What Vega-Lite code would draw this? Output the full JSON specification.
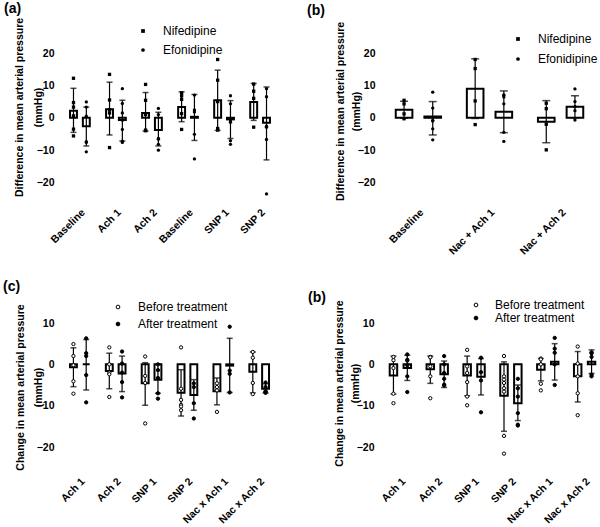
{
"$schema": "https://vega.github.io/schema/vega-lite/v6.json",
"padding": {"left": 3, "top": 2, "right": 0, "bottom": 0},
"config": {
 "view": {"stroke": "transparent", "strokeWidth": 0},
 "font": "Liberation Sans",
 "axis": {"domain": false, "ticks": false, "zindex": 0, "labelColor": "black", "labelFontWeight": "bold", "labelFontSize": 10.5, "labelFont": "Liberation Sans", "titleColor": "black", "titleFontWeight": "bold", "titleFontSize": 10.5, "titleFont": "Liberation Sans", "grid": false, "labelOverlap": false},
 "legend": {"title": null, "labelFont": "Liberation Sans", "labelFontSize": 12, "labelColor": "black", "padding": 0, "symbolStrokeColor": "black", "symbolFillColor": "black", "orient": "none"},
 "title": {"font": "Liberation Sans", "fontSize": 14, "fontWeight": "bold", "color": "black", "anchor": "start", "frame": "group"}
},
"datasets": {
 "bars": [
  {"panel": "a", "cat": "Baseline", "grp": "Nifedipine", "mean": 2.2, "lo": -4.5, "hi": 9.1},
  {"panel": "a", "cat": "Baseline", "grp": "Efonidipine", "mean": -2.6, "lo": -8.7, "hi": 3.3},
  {"panel": "a", "cat": "Ach 1", "grp": "Nifedipine", "mean": 2.6, "lo": -5.3, "hi": 11.0},
  {"panel": "a", "cat": "Ach 1", "grp": "Efonidipine", "mean": -0.7, "lo": -7.2, "hi": 5.4},
  {"panel": "a", "cat": "Ach 2", "grp": "Nifedipine", "mean": 1.5, "lo": -4.1, "hi": 7.8},
  {"panel": "a", "cat": "Ach 2", "grp": "Efonidipine", "mean": -3.8, "lo": -8.7, "hi": 1.7},
  {"panel": "a", "cat": "Baseline ", "grp": "Nifedipine", "mean": 3.3, "lo": -1.2, "hi": 8.0},
  {"panel": "a", "cat": "Baseline ", "grp": "Efonidipine", "mean": 0.3, "lo": -7.0, "hi": 7.2},
  {"panel": "a", "cat": "SNP 1", "grp": "Nifedipine", "mean": 5.4, "lo": -3.9, "hi": 14.7},
  {"panel": "a", "cat": "SNP 1", "grp": "Efonidipine", "mean": -0.5, "lo": -6.4, "hi": 5.3},
  {"panel": "a", "cat": "SNP 2", "grp": "Nifedipine", "mean": 4.9, "lo": -0.8, "hi": 10.6},
  {"panel": "a", "cat": "SNP 2", "grp": "Efonidipine", "mean": -1.5, "lo": -13.0, "hi": 9.5},
  {"panel": "b", "cat": "Baseline", "grp": "Nifedipine", "mean": 2.5, "lo": -0.1, "hi": 5.1},
  {"panel": "b", "cat": "Baseline", "grp": "Efonidipine", "mean": 0.4, "lo": -5.3, "hi": 5.0},
  {"panel": "b", "cat": "Nac + Ach 1", "grp": "Nifedipine", "mean": 9.0, "lo": -0.2, "hi": 18.2},
  {"panel": "b", "cat": "Nac + Ach 1", "grp": "Efonidipine", "mean": 1.9, "lo": -4.6, "hi": 8.3},
  {"panel": "b", "cat": "Nac + Ach 2", "grp": "Nifedipine", "mean": -1.2, "lo": -7.7, "hi": 5.3},
  {"panel": "b", "cat": "Nac + Ach 2", "grp": "Efonidipine", "mean": 3.4, "lo": 0.0, "hi": 6.8},
  {"panel": "c", "cat": "Ach 1", "grp": "Before treatment", "mean": -0.7, "lo": -5.4, "hi": 4.0},
  {"panel": "c", "cat": "Ach 1", "grp": "After treatment", "mean": 0.0, "lo": -6.2, "hi": 6.0},
  {"panel": "c", "cat": "Ach 2", "grp": "Before treatment", "mean": -1.6, "lo": -5.9, "hi": 2.7},
  {"panel": "c", "cat": "Ach 2", "grp": "After treatment", "mean": -2.2, "lo": -6.6, "hi": 2.0},
  {"panel": "c", "cat": "SNP 1", "grp": "Before treatment", "mean": -4.6, "lo": -9.9, "hi": 0.4},
  {"panel": "c", "cat": "SNP 1", "grp": "After treatment", "mean": -3.7, "lo": -7.0, "hi": 0.0},
  {"panel": "c", "cat": "SNP 2", "grp": "Before treatment", "mean": -6.9, "lo": -12.5, "hi": -1.3},
  {"panel": "c", "cat": "SNP 2", "grp": "After treatment", "mean": -7.4, "lo": -11.1, "hi": -3.7},
  {"panel": "c", "cat": "Nac x Ach 1", "grp": "Before treatment", "mean": -6.5, "lo": -9.8, "hi": -3.3},
  {"panel": "c", "cat": "Nac x Ach 1", "grp": "After treatment", "mean": -0.3, "lo": -6.8, "hi": 6.3},
  {"panel": "c", "cat": "Nac x Ach 2", "grp": "Before treatment", "mean": -1.8, "lo": -6.9, "hi": 3.0},
  {"panel": "c", "cat": "Nac x Ach 2", "grp": "After treatment", "mean": -5.9, "lo": -6.9, "hi": -4.7},
  {"panel": "d", "cat": "Ach 1", "grp": "Before treatment", "mean": -2.7, "lo": -7.2, "hi": 2.0},
  {"panel": "d", "cat": "Ach 1", "grp": "After treatment", "mean": -0.9, "lo": -3.9, "hi": 2.2},
  {"panel": "d", "cat": "Ach 2", "grp": "Before treatment", "mean": -1.2, "lo": -4.6, "hi": 2.0},
  {"panel": "d", "cat": "Ach 2", "grp": "After treatment", "mean": -2.4, "lo": -5.6, "hi": 0.8},
  {"panel": "d", "cat": "SNP 1", "grp": "Before treatment", "mean": -2.7, "lo": -7.6, "hi": 2.0},
  {"panel": "d", "cat": "SNP 1", "grp": "After treatment", "mean": -3.0, "lo": -7.4, "hi": 1.4},
  {"panel": "d", "cat": "SNP 2", "grp": "Before treatment", "mean": -7.6, "lo": -16.2, "hi": 0.6},
  {"panel": "d", "cat": "SNP 2", "grp": "After treatment", "mean": -9.4, "lo": -13.6, "hi": -5.0},
  {"panel": "d", "cat": "Nac x Ach 1", "grp": "Before treatment", "mean": -1.3, "lo": -4.0, "hi": 1.4},
  {"panel": "d", "cat": "Nac x Ach 1", "grp": "After treatment", "mean": 0.6, "lo": -3.8, "hi": 5.0},
  {"panel": "d", "cat": "Nac x Ach 2", "grp": "Before treatment", "mean": -2.9, "lo": -9.1, "hi": 3.1},
  {"panel": "d", "cat": "Nac x Ach 2", "grp": "After treatment", "mean": 0.6, "lo": -2.2, "hi": 3.5}
 ],
 "pts": [
  {"panel": "a", "cat": "Baseline", "grp": "Nifedipine", "v": 12.2}, {"panel": "a", "cat": "Baseline", "grp": "Nifedipine", "v": 4.7}, {"panel": "a", "cat": "Baseline", "grp": "Nifedipine", "v": 3.3}, {"panel": "a", "cat": "Baseline", "grp": "Nifedipine", "v": 0.6}, {"panel": "a", "cat": "Baseline", "grp": "Nifedipine", "v": -3.5}, {"panel": "a", "cat": "Baseline", "grp": "Nifedipine", "v": -5.6},
  {"panel": "a", "cat": "Baseline", "grp": "Efonidipine", "v": 4.9}, {"panel": "a", "cat": "Baseline", "grp": "Efonidipine", "v": 3.3}, {"panel": "a", "cat": "Baseline", "grp": "Efonidipine", "v": 0.5}, {"panel": "a", "cat": "Baseline", "grp": "Efonidipine", "v": -7.4}, {"panel": "a", "cat": "Baseline", "grp": "Efonidipine", "v": -7.6}, {"panel": "a", "cat": "Baseline", "grp": "Efonidipine", "v": -10.5},
  {"panel": "a", "cat": "Ach 1", "grp": "Nifedipine", "v": 13.4}, {"panel": "a", "cat": "Ach 1", "grp": "Nifedipine", "v": 5.5}, {"panel": "a", "cat": "Ach 1", "grp": "Nifedipine", "v": 2.5}, {"panel": "a", "cat": "Ach 1", "grp": "Nifedipine", "v": 1.5}, {"panel": "a", "cat": "Ach 1", "grp": "Nifedipine", "v": -9.2},
  {"panel": "a", "cat": "Ach 1", "grp": "Efonidipine", "v": 9.0}, {"panel": "a", "cat": "Ach 1", "grp": "Efonidipine", "v": 4.4}, {"panel": "a", "cat": "Ach 1", "grp": "Efonidipine", "v": 1.5}, {"panel": "a", "cat": "Ach 1", "grp": "Efonidipine", "v": -0.8}, {"panel": "a", "cat": "Ach 1", "grp": "Efonidipine", "v": -3.6}, {"panel": "a", "cat": "Ach 1", "grp": "Efonidipine", "v": -7.2}, {"panel": "a", "cat": "Ach 1", "grp": "Efonidipine", "v": -7.6},
  {"panel": "a", "cat": "Ach 2", "grp": "Nifedipine", "v": 10.3}, {"panel": "a", "cat": "Ach 2", "grp": "Nifedipine", "v": 5.4}, {"panel": "a", "cat": "Ach 2", "grp": "Nifedipine", "v": 1.0}, {"panel": "a", "cat": "Ach 2", "grp": "Nifedipine", "v": -3.8}, {"panel": "a", "cat": "Ach 2", "grp": "Nifedipine", "v": -4.0},
  {"panel": "a", "cat": "Ach 2", "grp": "Efonidipine", "v": 2.9}, {"panel": "a", "cat": "Ach 2", "grp": "Efonidipine", "v": 1.0}, {"panel": "a", "cat": "Ach 2", "grp": "Efonidipine", "v": -6.4}, {"panel": "a", "cat": "Ach 2", "grp": "Efonidipine", "v": -6.6}, {"panel": "a", "cat": "Ach 2", "grp": "Efonidipine", "v": -8.2}, {"panel": "a", "cat": "Ach 2", "grp": "Efonidipine", "v": -10.0},
  {"panel": "a", "cat": "Baseline ", "grp": "Nifedipine", "v": 7.7}, {"panel": "a", "cat": "Baseline ", "grp": "Nifedipine", "v": 6.8}, {"panel": "a", "cat": "Baseline ", "grp": "Nifedipine", "v": 5.7}, {"panel": "a", "cat": "Baseline ", "grp": "Nifedipine", "v": 1.3}, {"panel": "a", "cat": "Baseline ", "grp": "Nifedipine", "v": -3.6},
  {"panel": "a", "cat": "Baseline ", "grp": "Efonidipine", "v": 7.0}, {"panel": "a", "cat": "Baseline ", "grp": "Efonidipine", "v": 2.4}, {"panel": "a", "cat": "Baseline ", "grp": "Efonidipine", "v": 1.8}, {"panel": "a", "cat": "Baseline ", "grp": "Efonidipine", "v": -5.1}, {"panel": "a", "cat": "Baseline ", "grp": "Efonidipine", "v": -12.7},
  {"panel": "a", "cat": "SNP 1", "grp": "Nifedipine", "v": 18.0}, {"panel": "a", "cat": "SNP 1", "grp": "Nifedipine", "v": 11.6}, {"panel": "a", "cat": "SNP 1", "grp": "Nifedipine", "v": 5.0}, {"panel": "a", "cat": "SNP 1", "grp": "Nifedipine", "v": -3.3}, {"panel": "a", "cat": "SNP 1", "grp": "Nifedipine", "v": -3.8},
  {"panel": "a", "cat": "SNP 1", "grp": "Efonidipine", "v": 6.8}, {"panel": "a", "cat": "SNP 1", "grp": "Efonidipine", "v": 4.3}, {"panel": "a", "cat": "SNP 1", "grp": "Efonidipine", "v": -1.0}, {"panel": "a", "cat": "SNP 1", "grp": "Efonidipine", "v": -1.4}, {"panel": "a", "cat": "SNP 1", "grp": "Efonidipine", "v": -7.1}, {"panel": "a", "cat": "SNP 1", "grp": "Efonidipine", "v": -8.2},
  {"panel": "a", "cat": "SNP 2", "grp": "Nifedipine", "v": 10.4}, {"panel": "a", "cat": "SNP 2", "grp": "Nifedipine", "v": 8.2}, {"panel": "a", "cat": "SNP 2", "grp": "Nifedipine", "v": 6.0}, {"panel": "a", "cat": "SNP 2", "grp": "Nifedipine", "v": -2.9},
  {"panel": "a", "cat": "SNP 2", "grp": "Efonidipine", "v": 9.0}, {"panel": "a", "cat": "SNP 2", "grp": "Efonidipine", "v": 6.5}, {"panel": "a", "cat": "SNP 2", "grp": "Efonidipine", "v": -2.6}, {"panel": "a", "cat": "SNP 2", "grp": "Efonidipine", "v": -2.9}, {"panel": "a", "cat": "SNP 2", "grp": "Efonidipine", "v": -6.7}, {"panel": "a", "cat": "SNP 2", "grp": "Efonidipine", "v": -23.5},
  {"panel": "b", "cat": "Baseline", "grp": "Nifedipine", "v": 5.4}, {"panel": "b", "cat": "Baseline", "grp": "Nifedipine", "v": 4.3}, {"panel": "b", "cat": "Baseline", "grp": "Nifedipine", "v": 1.2}, {"panel": "b", "cat": "Baseline", "grp": "Nifedipine", "v": -0.3},
  {"panel": "b", "cat": "Baseline", "grp": "Efonidipine", "v": 7.9}, {"panel": "b", "cat": "Baseline", "grp": "Efonidipine", "v": 3.0}, {"panel": "b", "cat": "Baseline", "grp": "Efonidipine", "v": -0.8}, {"panel": "b", "cat": "Baseline", "grp": "Efonidipine", "v": -1.0}, {"panel": "b", "cat": "Baseline", "grp": "Efonidipine", "v": -3.4}, {"panel": "b", "cat": "Baseline", "grp": "Efonidipine", "v": -6.8},
  {"panel": "b", "cat": "Nac + Ach 1", "grp": "Nifedipine", "v": 18.0}, {"panel": "b", "cat": "Nac + Ach 1", "grp": "Nifedipine", "v": 15.2}, {"panel": "b", "cat": "Nac + Ach 1", "grp": "Nifedipine", "v": 5.2}, {"panel": "b", "cat": "Nac + Ach 1", "grp": "Nifedipine", "v": -2.1},
  {"panel": "b", "cat": "Nac + Ach 1", "grp": "Efonidipine", "v": 7.1}, {"panel": "b", "cat": "Nac + Ach 1", "grp": "Efonidipine", "v": 6.9}, {"panel": "b", "cat": "Nac + Ach 1", "grp": "Efonidipine", "v": 6.4}, {"panel": "b", "cat": "Nac + Ach 1", "grp": "Efonidipine", "v": 4.3}, {"panel": "b", "cat": "Nac + Ach 1", "grp": "Efonidipine", "v": -4.5}, {"panel": "b", "cat": "Nac + Ach 1", "grp": "Efonidipine", "v": -7.3},
  {"panel": "b", "cat": "Nac + Ach 2", "grp": "Nifedipine", "v": 4.5}, {"panel": "b", "cat": "Nac + Ach 2", "grp": "Nifedipine", "v": 2.8}, {"panel": "b", "cat": "Nac + Ach 2", "grp": "Nifedipine", "v": -2.0}, {"panel": "b", "cat": "Nac + Ach 2", "grp": "Nifedipine", "v": -9.9},
  {"panel": "b", "cat": "Nac + Ach 2", "grp": "Efonidipine", "v": 8.9}, {"panel": "b", "cat": "Nac + Ach 2", "grp": "Efonidipine", "v": 5.0}, {"panel": "b", "cat": "Nac + Ach 2", "grp": "Efonidipine", "v": 3.4}, {"panel": "b", "cat": "Nac + Ach 2", "grp": "Efonidipine", "v": 2.2}, {"panel": "b", "cat": "Nac + Ach 2", "grp": "Efonidipine", "v": -0.7},
  {"panel": "c", "cat": "Ach 1", "grp": "Before treatment", "v": 4.9}, {"panel": "c", "cat": "Ach 1", "grp": "Before treatment", "v": 2.0}, {"panel": "c", "cat": "Ach 1", "grp": "Before treatment", "v": -0.2}, {"panel": "c", "cat": "Ach 1", "grp": "Before treatment", "v": -4.1}, {"panel": "c", "cat": "Ach 1", "grp": "Before treatment", "v": -7.1},
  {"panel": "c", "cat": "Ach 1", "grp": "After treatment", "v": 6.3}, {"panel": "c", "cat": "Ach 1", "grp": "After treatment", "v": 2.7}, {"panel": "c", "cat": "Ach 1", "grp": "After treatment", "v": 2.0}, {"panel": "c", "cat": "Ach 1", "grp": "After treatment", "v": -2.6}, {"panel": "c", "cat": "Ach 1", "grp": "After treatment", "v": -9.2},
  {"panel": "c", "cat": "Ach 2", "grp": "Before treatment", "v": 4.1}, {"panel": "c", "cat": "Ach 2", "grp": "Before treatment", "v": 0.0}, {"panel": "c", "cat": "Ach 2", "grp": "Before treatment", "v": -2.0}, {"panel": "c", "cat": "Ach 2", "grp": "Before treatment", "v": -2.4}, {"panel": "c", "cat": "Ach 2", "grp": "Before treatment", "v": -7.9},
  {"panel": "c", "cat": "Ach 2", "grp": "After treatment", "v": 3.1}, {"panel": "c", "cat": "Ach 2", "grp": "After treatment", "v": 0.2}, {"panel": "c", "cat": "Ach 2", "grp": "After treatment", "v": -2.0}, {"panel": "c", "cat": "Ach 2", "grp": "After treatment", "v": -4.3}, {"panel": "c", "cat": "Ach 2", "grp": "After treatment", "v": -8.0},
  {"panel": "c", "cat": "SNP 1", "grp": "Before treatment", "v": 1.9}, {"panel": "c", "cat": "SNP 1", "grp": "Before treatment", "v": -2.8}, {"panel": "c", "cat": "SNP 1", "grp": "Before treatment", "v": -4.5}, {"panel": "c", "cat": "SNP 1", "grp": "Before treatment", "v": -14.3},
  {"panel": "c", "cat": "SNP 1", "grp": "After treatment", "v": 0.0}, {"panel": "c", "cat": "SNP 1", "grp": "After treatment", "v": -1.4}, {"panel": "c", "cat": "SNP 1", "grp": "After treatment", "v": -3.3}, {"panel": "c", "cat": "SNP 1", "grp": "After treatment", "v": -7.0}, {"panel": "c", "cat": "SNP 1", "grp": "After treatment", "v": -8.3},
  {"panel": "c", "cat": "SNP 2", "grp": "Before treatment", "v": 4.1}, {"panel": "c", "cat": "SNP 2", "grp": "Before treatment", "v": -5.9}, {"panel": "c", "cat": "SNP 2", "grp": "Before treatment", "v": -8.6}, {"panel": "c", "cat": "SNP 2", "grp": "Before treatment", "v": -9.8}, {"panel": "c", "cat": "SNP 2", "grp": "Before treatment", "v": -10.2}, {"panel": "c", "cat": "SNP 2", "grp": "Before treatment", "v": -11.1},
  {"panel": "c", "cat": "SNP 2", "grp": "After treatment", "v": -4.6}, {"panel": "c", "cat": "SNP 2", "grp": "After treatment", "v": -5.5}, {"panel": "c", "cat": "SNP 2", "grp": "After treatment", "v": -9.4}, {"panel": "c", "cat": "SNP 2", "grp": "After treatment", "v": -13.1},
  {"panel": "c", "cat": "Nac x Ach 1", "grp": "Before treatment", "v": -4.6}, {"panel": "c", "cat": "Nac x Ach 1", "grp": "Before treatment", "v": -5.5}, {"panel": "c", "cat": "Nac x Ach 1", "grp": "Before treatment", "v": -6.3}, {"panel": "c", "cat": "Nac x Ach 1", "grp": "Before treatment", "v": -11.5},
  {"panel": "c", "cat": "Nac x Ach 1", "grp": "After treatment", "v": 9.1}, {"panel": "c", "cat": "Nac x Ach 1", "grp": "After treatment", "v": -1.5}, {"panel": "c", "cat": "Nac x Ach 1", "grp": "After treatment", "v": -2.3}, {"panel": "c", "cat": "Nac x Ach 1", "grp": "After treatment", "v": -6.8},
  {"panel": "c", "cat": "Nac x Ach 2", "grp": "Before treatment", "v": 3.0}, {"panel": "c", "cat": "Nac x Ach 2", "grp": "Before treatment", "v": 1.6}, {"panel": "c", "cat": "Nac x Ach 2", "grp": "Before treatment", "v": -4.5}, {"panel": "c", "cat": "Nac x Ach 2", "grp": "Before treatment", "v": -7.2},
  {"panel": "c", "cat": "Nac x Ach 2", "grp": "After treatment", "v": -4.4}, {"panel": "c", "cat": "Nac x Ach 2", "grp": "After treatment", "v": -5.5}, {"panel": "c", "cat": "Nac x Ach 2", "grp": "After treatment", "v": -6.5}, {"panel": "c", "cat": "Nac x Ach 2", "grp": "After treatment", "v": -6.7}, {"panel": "c", "cat": "Nac x Ach 2", "grp": "After treatment", "v": -6.9},
  {"panel": "d", "cat": "Ach 1", "grp": "Before treatment", "v": 1.8}, {"panel": "d", "cat": "Ach 1", "grp": "Before treatment", "v": 1.0}, {"panel": "d", "cat": "Ach 1", "grp": "Before treatment", "v": -0.9}, {"panel": "d", "cat": "Ach 1", "grp": "Before treatment", "v": -7.1}, {"panel": "d", "cat": "Ach 1", "grp": "Before treatment", "v": -9.4},
  {"panel": "d", "cat": "Ach 1", "grp": "After treatment", "v": 2.4}, {"panel": "d", "cat": "Ach 1", "grp": "After treatment", "v": 1.1}, {"panel": "d", "cat": "Ach 1", "grp": "After treatment", "v": 0.9}, {"panel": "d", "cat": "Ach 1", "grp": "After treatment", "v": -0.2}, {"panel": "d", "cat": "Ach 1", "grp": "After treatment", "v": -2.9}, {"panel": "d", "cat": "Ach 1", "grp": "After treatment", "v": -6.7},
  {"panel": "d", "cat": "Ach 2", "grp": "Before treatment", "v": 1.8}, {"panel": "d", "cat": "Ach 2", "grp": "Before treatment", "v": 1.7}, {"panel": "d", "cat": "Ach 2", "grp": "Before treatment", "v": -0.5}, {"panel": "d", "cat": "Ach 2", "grp": "Before treatment", "v": -2.9}, {"panel": "d", "cat": "Ach 2", "grp": "Before treatment", "v": -8.2},
  {"panel": "d", "cat": "Ach 2", "grp": "After treatment", "v": 2.0}, {"panel": "d", "cat": "Ach 2", "grp": "After treatment", "v": 0.0}, {"panel": "d", "cat": "Ach 2", "grp": "After treatment", "v": -2.1}, {"panel": "d", "cat": "Ach 2", "grp": "After treatment", "v": -3.5}, {"panel": "d", "cat": "Ach 2", "grp": "After treatment", "v": -4.9}, {"panel": "d", "cat": "Ach 2", "grp": "After treatment", "v": -5.1},
  {"panel": "d", "cat": "SNP 1", "grp": "Before treatment", "v": 3.5}, {"panel": "d", "cat": "SNP 1", "grp": "Before treatment", "v": -0.5}, {"panel": "d", "cat": "SNP 1", "grp": "Before treatment", "v": -2.1}, {"panel": "d", "cat": "SNP 1", "grp": "Before treatment", "v": -4.3}, {"panel": "d", "cat": "SNP 1", "grp": "Before treatment", "v": -7.8}, {"panel": "d", "cat": "SNP 1", "grp": "Before treatment", "v": -9.9},
  {"panel": "d", "cat": "SNP 1", "grp": "After treatment", "v": 1.6}, {"panel": "d", "cat": "SNP 1", "grp": "After treatment", "v": -1.9}, {"panel": "d", "cat": "SNP 1", "grp": "After treatment", "v": -3.9}, {"panel": "d", "cat": "SNP 1", "grp": "After treatment", "v": -11.6},
  {"panel": "d", "cat": "SNP 2", "grp": "Before treatment", "v": 2.0}, {"panel": "d", "cat": "SNP 2", "grp": "Before treatment", "v": -2.9}, {"panel": "d", "cat": "SNP 2", "grp": "Before treatment", "v": -3.7}, {"panel": "d", "cat": "SNP 2", "grp": "Before treatment", "v": -4.5}, {"panel": "d", "cat": "SNP 2", "grp": "Before treatment", "v": -5.8}, {"panel": "d", "cat": "SNP 2", "grp": "Before treatment", "v": -6.6}, {"panel": "d", "cat": "SNP 2", "grp": "Before treatment", "v": -17.3}, {"panel": "d", "cat": "SNP 2", "grp": "Before treatment", "v": -21.6},
  {"panel": "d", "cat": "SNP 2", "grp": "After treatment", "v": -3.5}, {"panel": "d", "cat": "SNP 2", "grp": "After treatment", "v": -5.8}, {"panel": "d", "cat": "SNP 2", "grp": "After treatment", "v": -7.8}, {"panel": "d", "cat": "SNP 2", "grp": "After treatment", "v": -11.8}, {"panel": "d", "cat": "SNP 2", "grp": "After treatment", "v": -14.6}, {"panel": "d", "cat": "SNP 2", "grp": "After treatment", "v": -14.8},
  {"panel": "d", "cat": "Nac x Ach 1", "grp": "Before treatment", "v": 1.4}, {"panel": "d", "cat": "Nac x Ach 1", "grp": "Before treatment", "v": 1.2}, {"panel": "d", "cat": "Nac x Ach 1", "grp": "Before treatment", "v": 0.0}, {"panel": "d", "cat": "Nac x Ach 1", "grp": "Before treatment", "v": -4.7}, {"panel": "d", "cat": "Nac x Ach 1", "grp": "Before treatment", "v": -6.3},
  {"panel": "d", "cat": "Nac x Ach 1", "grp": "After treatment", "v": 6.4}, {"panel": "d", "cat": "Nac x Ach 1", "grp": "After treatment", "v": 3.8}, {"panel": "d", "cat": "Nac x Ach 1", "grp": "After treatment", "v": 2.8}, {"panel": "d", "cat": "Nac x Ach 1", "grp": "After treatment", "v": 0.0}, {"panel": "d", "cat": "Nac x Ach 1", "grp": "After treatment", "v": -5.0},
  {"panel": "d", "cat": "Nac x Ach 2", "grp": "Before treatment", "v": 4.3}, {"panel": "d", "cat": "Nac x Ach 2", "grp": "Before treatment", "v": 0.2}, {"panel": "d", "cat": "Nac x Ach 2", "grp": "Before treatment", "v": -2.9}, {"panel": "d", "cat": "Nac x Ach 2", "grp": "Before treatment", "v": -7.0}, {"panel": "d", "cat": "Nac x Ach 2", "grp": "Before treatment", "v": -12.3},
  {"panel": "d", "cat": "Nac x Ach 2", "grp": "After treatment", "v": 2.9}, {"panel": "d", "cat": "Nac x Ach 2", "grp": "After treatment", "v": 2.7}, {"panel": "d", "cat": "Nac x Ach 2", "grp": "After treatment", "v": 1.8}, {"panel": "d", "cat": "Nac x Ach 2", "grp": "After treatment", "v": -2.5}, {"panel": "d", "cat": "Nac x Ach 2", "grp": "After treatment", "v": -2.9}
 ]
},
"bounds": "flush",
"spacing": 270,
"resolve": {"scale": {"x": "independent", "y": "independent", "xOffset": "independent", "shape": "independent", "fill": "independent"}, "legend": {"shape": "independent", "fill": "independent"}, "axis": {"x": "independent", "y": "independent"}},
"vconcat": [
 {"hconcat": [
  {"width": 222, "height": 149,
   "title": {"text": "(a)", "dx": -55, "offset": 1},
   "layer": [
    {"data": {"name": "bars"}, "transform": [{"filter": "datum.panel == 'a'"}],
     "mark": {"type": "bar", "fill": "white", "stroke": "black", "strokeWidth": 2},
     "encoding": {
      "x": {"field": "cat", "type": "nominal", "sort": ["Baseline", "Ach 1", "Ach 2", "Baseline ", "SNP 1", "SNP 2"], "scale": {"paddingInner": 0, "paddingOuter": 0.08}, "axis": {"title": null, "labelAngle": -45, "labelPadding": 5, "domain": false, "ticks": false, "zindex": 0}},
      "xOffset": {"field": "grp", "type": "nominal", "sort": ["Nifedipine", "Efonidipine"], "scale": {"paddingInner": 0.46, "paddingOuter": 0.635}},
      "y": {"field": "mean", "type": "quantitative", "scale": {"domain": [-26, 20], "nice": false, "zero": false}, "axis": {"domain": false, "ticks": false, "zindex": 0, "labelPadding": 5, "labelOverlap": false, "title": ["Difference in mean arterial pressure", "(mmHg)"], "values": [-20, -10, 0, 10, 20], "titleX": -40, "titleY": 54, "titleAngle": -90, "titleAlign": "center", "titleBaseline": "middle", "titleLineHeight": 19}},
      "y2": {"datum": 0}}},
    {"data": {"name": "bars"}, "transform": [{"filter": "datum.panel == 'a'"}],
     "mark": {"type": "rule", "color": "black", "strokeWidth": 1.2},
     "encoding": {
      "x": {"field": "cat", "type": "nominal", "sort": ["Baseline", "Ach 1", "Ach 2", "Baseline ", "SNP 1", "SNP 2"], "axis": {"title": null, "labelAngle": -45, "labelPadding": 5, "domain": false, "ticks": false, "zindex": 0}},
      "xOffset": {"field": "grp", "type": "nominal", "sort": ["Nifedipine", "Efonidipine"]},
      "y": {"field": "lo", "type": "quantitative", "axis": {"domain": false, "ticks": false, "zindex": 0, "labelPadding": 5, "labelOverlap": false, "title": ["Difference in mean arterial pressure", "(mmHg)"], "values": [-20, -10, 0, 10, 20], "titleX": -40, "titleY": 54, "titleAngle": -90, "titleAlign": "center", "titleBaseline": "middle", "titleLineHeight": 19}}, "y2": {"field": "hi"}}},
    {"data": {"name": "bars"}, "transform": [{"filter": "datum.panel == 'a'"}],
     "mark": {"type": "tick", "orient": "horizontal", "color": "black", "size": 6, "thickness": 1.5},
     "encoding": {
      "x": {"field": "cat", "type": "nominal", "sort": ["Baseline", "Ach 1", "Ach 2", "Baseline ", "SNP 1", "SNP 2"], "axis": {"title": null, "labelAngle": -45, "labelPadding": 5, "domain": false, "ticks": false, "zindex": 0}},
      "xOffset": {"field": "grp", "type": "nominal", "sort": ["Nifedipine", "Efonidipine"]},
      "y": {"field": "hi", "type": "quantitative", "axis": {"domain": false, "ticks": false, "zindex": 0, "labelPadding": 5, "labelOverlap": false, "title": ["Difference in mean arterial pressure", "(mmHg)"], "values": [-20, -10, 0, 10, 20], "titleX": -40, "titleY": 54, "titleAngle": -90, "titleAlign": "center", "titleBaseline": "middle", "titleLineHeight": 19}}}},
    {"data": {"name": "bars"}, "transform": [{"filter": "datum.panel == 'a'"}],
     "mark": {"type": "tick", "orient": "horizontal", "color": "black", "size": 6, "thickness": 1.5},
     "encoding": {
      "x": {"field": "cat", "type": "nominal", "sort": ["Baseline", "Ach 1", "Ach 2", "Baseline ", "SNP 1", "SNP 2"], "axis": {"title": null, "labelAngle": -45, "labelPadding": 5, "domain": false, "ticks": false, "zindex": 0}},
      "xOffset": {"field": "grp", "type": "nominal", "sort": ["Nifedipine", "Efonidipine"]},
      "y": {"field": "lo", "type": "quantitative", "axis": {"domain": false, "ticks": false, "zindex": 0, "labelPadding": 5, "labelOverlap": false, "title": ["Difference in mean arterial pressure", "(mmHg)"], "values": [-20, -10, 0, 10, 20], "titleX": -40, "titleY": 54, "titleAngle": -90, "titleAlign": "center", "titleBaseline": "middle", "titleLineHeight": 19}}}},
    {"data": {"name": "pts"}, "transform": [{"filter": "datum.panel == 'a'"}],
     "mark": {"type": "point", "filled": true, "color": "black", "size": 11, "opacity": 1},
     "encoding": {
      "x": {"field": "cat", "type": "nominal", "sort": ["Baseline", "Ach 1", "Ach 2", "Baseline ", "SNP 1", "SNP 2"], "axis": {"title": null, "labelAngle": -45, "labelPadding": 5, "domain": false, "ticks": false, "zindex": 0}},
      "xOffset": {"field": "grp", "type": "nominal", "sort": ["Nifedipine", "Efonidipine"]},
      "y": {"field": "v", "type": "quantitative", "axis": {"domain": false, "ticks": false, "zindex": 0, "labelPadding": 5, "labelOverlap": false, "title": ["Difference in mean arterial pressure", "(mmHg)"], "values": [-20, -10, 0, 10, 20], "titleX": -40, "titleY": 54, "titleAngle": -90, "titleAlign": "center", "titleBaseline": "middle", "titleLineHeight": 19}},
      "shape": {"field": "grp", "type": "nominal", "scale": {"domain": ["Nifedipine", "Efonidipine"], "range": ["square", "circle"]}, "legend": {"legendX": 78, "legendY": -28, "rowPadding": 7, "labelOffset": 14, "symbolSize": 14}}}},
    {"mark": {"type": "rule", "color": "black", "strokeWidth": 2}, "encoding": {"y": {"datum": 0, "type": "quantitative", "axis": {"domain": false, "ticks": false, "zindex": 0, "labelPadding": 5, "labelOverlap": false, "title": ["Difference in mean arterial pressure", "(mmHg)"], "values": [-20, -10, 0, 10, 20], "titleX": -40, "titleY": 54, "titleAngle": -90, "titleAlign": "center", "titleBaseline": "middle", "titleLineHeight": 19}}}},
    {"mark": {"type": "rule", "color": "black", "strokeWidth": 2, "clip": false}, "encoding": {"y": {"datum": -25, "type": "quantitative", "axis": {"domain": false, "ticks": false, "zindex": 0, "labelPadding": 5, "labelOverlap": false, "title": ["Difference in mean arterial pressure", "(mmHg)"], "values": [-20, -10, 0, 10, 20], "titleX": -40, "titleY": 54, "titleAngle": -90, "titleAlign": "center", "titleBaseline": "middle", "titleLineHeight": 19}}}},
    {"mark": {"type": "rule", "color": "black", "strokeWidth": 2, "clip": false}, "encoding": {"x": {"datum": "Baseline", "type": "nominal", "bandPosition": 0, "axis": {"title": null, "labelAngle": -45, "labelPadding": 5, "domain": false, "ticks": false, "zindex": 0}}, "y": {"datum": -25, "type": "quantitative", "axis": {"domain": false, "ticks": false, "zindex": 0, "labelPadding": 5, "labelOverlap": false, "title": ["Difference in mean arterial pressure", "(mmHg)"], "values": [-20, -10, 0, 10, 20], "titleX": -40, "titleY": 54, "titleAngle": -90, "titleAlign": "center", "titleBaseline": "middle", "titleLineHeight": 19}}, "y2": {"datum": 20}}}
   ]},
  {"width": 219, "height": 149,
   "title": {"text": "(b)", "dx": -73, "offset": 3},
   "layer": [
    {"data": {"name": "bars"}, "transform": [{"filter": "datum.panel == 'b'"}],
     "mark": {"type": "bar", "fill": "white", "stroke": "black", "strokeWidth": 2},
     "encoding": {
      "x": {"field": "cat", "type": "nominal", "sort": ["Baseline", "Nac + Ach 1", "Nac + Ach 2"], "scale": {"paddingInner": 0, "paddingOuter": 0.04}, "axis": {"title": null, "labelAngle": -45, "labelPadding": 5, "domain": false, "ticks": false, "zindex": 0}},
      "xOffset": {"field": "grp", "type": "nominal", "sort": ["Nifedipine", "Efonidipine"], "scale": {"paddingInner": 0.42, "paddingOuter": 0.45}},
      "y": {"field": "mean", "type": "quantitative", "scale": {"domain": [-26, 20], "nice": false, "zero": false}, "axis": {"domain": false, "ticks": false, "zindex": 0, "labelPadding": 5, "labelOverlap": false, "title": ["Difference in mean arterial pressure", "(mmHg)"], "values": [-20, -10, 0, 10, 20], "titleX": -40, "titleY": 58, "titleAngle": -90, "titleAlign": "center", "titleBaseline": "middle", "titleLineHeight": 16}},
      "y2": {"datum": 0}}},
    {"data": {"name": "bars"}, "transform": [{"filter": "datum.panel == 'b'"}],
     "mark": {"type": "rule", "color": "black", "strokeWidth": 1.2},
     "encoding": {
      "x": {"field": "cat", "type": "nominal", "sort": ["Baseline", "Nac + Ach 1", "Nac + Ach 2"], "axis": {"title": null, "labelAngle": -45, "labelPadding": 5, "domain": false, "ticks": false, "zindex": 0}},
      "xOffset": {"field": "grp", "type": "nominal", "sort": ["Nifedipine", "Efonidipine"]},
      "y": {"field": "lo", "type": "quantitative", "axis": {"domain": false, "ticks": false, "zindex": 0, "labelPadding": 5, "labelOverlap": false, "title": ["Difference in mean arterial pressure", "(mmHg)"], "values": [-20, -10, 0, 10, 20], "titleX": -40, "titleY": 58, "titleAngle": -90, "titleAlign": "center", "titleBaseline": "middle", "titleLineHeight": 16}}, "y2": {"field": "hi"}}},
    {"data": {"name": "bars"}, "transform": [{"filter": "datum.panel == 'b'"}],
     "mark": {"type": "tick", "orient": "horizontal", "color": "black", "size": 8, "thickness": 1.5},
     "encoding": {
      "x": {"field": "cat", "type": "nominal", "sort": ["Baseline", "Nac + Ach 1", "Nac + Ach 2"], "axis": {"title": null, "labelAngle": -45, "labelPadding": 5, "domain": false, "ticks": false, "zindex": 0}},
      "xOffset": {"field": "grp", "type": "nominal", "sort": ["Nifedipine", "Efonidipine"]},
      "y": {"field": "hi", "type": "quantitative", "axis": {"domain": false, "ticks": false, "zindex": 0, "labelPadding": 5, "labelOverlap": false, "title": ["Difference in mean arterial pressure", "(mmHg)"], "values": [-20, -10, 0, 10, 20], "titleX": -40, "titleY": 58, "titleAngle": -90, "titleAlign": "center", "titleBaseline": "middle", "titleLineHeight": 16}}}},
    {"data": {"name": "bars"}, "transform": [{"filter": "datum.panel == 'b'"}],
     "mark": {"type": "tick", "orient": "horizontal", "color": "black", "size": 8, "thickness": 1.5},
     "encoding": {
      "x": {"field": "cat", "type": "nominal", "sort": ["Baseline", "Nac + Ach 1", "Nac + Ach 2"], "axis": {"title": null, "labelAngle": -45, "labelPadding": 5, "domain": false, "ticks": false, "zindex": 0}},
      "xOffset": {"field": "grp", "type": "nominal", "sort": ["Nifedipine", "Efonidipine"]},
      "y": {"field": "lo", "type": "quantitative", "axis": {"domain": false, "ticks": false, "zindex": 0, "labelPadding": 5, "labelOverlap": false, "title": ["Difference in mean arterial pressure", "(mmHg)"], "values": [-20, -10, 0, 10, 20], "titleX": -40, "titleY": 58, "titleAngle": -90, "titleAlign": "center", "titleBaseline": "middle", "titleLineHeight": 16}}}},
    {"data": {"name": "pts"}, "transform": [{"filter": "datum.panel == 'b'"}],
     "mark": {"type": "point", "filled": true, "color": "black", "size": 11, "opacity": 1},
     "encoding": {
      "x": {"field": "cat", "type": "nominal", "sort": ["Baseline", "Nac + Ach 1", "Nac + Ach 2"], "axis": {"title": null, "labelAngle": -45, "labelPadding": 5, "domain": false, "ticks": false, "zindex": 0}},
      "xOffset": {"field": "grp", "type": "nominal", "sort": ["Nifedipine", "Efonidipine"]},
      "y": {"field": "v", "type": "quantitative", "axis": {"domain": false, "ticks": false, "zindex": 0, "labelPadding": 5, "labelOverlap": false, "title": ["Difference in mean arterial pressure", "(mmHg)"], "values": [-20, -10, 0, 10, 20], "titleX": -40, "titleY": 58, "titleAngle": -90, "titleAlign": "center", "titleBaseline": "middle", "titleLineHeight": 16}},
      "shape": {"field": "grp", "type": "nominal", "scale": {"domain": ["Nifedipine", "Efonidipine"], "range": ["square", "circle"]}, "legend": {"legendX": 132, "legendY": -20, "rowPadding": 8, "labelOffset": 14, "symbolSize": 14}}}},
    {"mark": {"type": "rule", "color": "black", "strokeWidth": 2}, "encoding": {"y": {"datum": 0, "type": "quantitative", "axis": {"domain": false, "ticks": false, "zindex": 0, "labelPadding": 5, "labelOverlap": false, "title": ["Difference in mean arterial pressure", "(mmHg)"], "values": [-20, -10, 0, 10, 20], "titleX": -40, "titleY": 58, "titleAngle": -90, "titleAlign": "center", "titleBaseline": "middle", "titleLineHeight": 16}}}},
    {"mark": {"type": "rule", "color": "black", "strokeWidth": 2, "clip": false}, "encoding": {"y": {"datum": -25, "type": "quantitative", "axis": {"domain": false, "ticks": false, "zindex": 0, "labelPadding": 5, "labelOverlap": false, "title": ["Difference in mean arterial pressure", "(mmHg)"], "values": [-20, -10, 0, 10, 20], "titleX": -40, "titleY": 58, "titleAngle": -90, "titleAlign": "center", "titleBaseline": "middle", "titleLineHeight": 16}}}},
    {"mark": {"type": "rule", "color": "black", "strokeWidth": 2, "clip": false}, "encoding": {"x": {"datum": "Baseline", "type": "nominal", "bandPosition": 0, "axis": {"title": null, "labelAngle": -45, "labelPadding": 5, "domain": false, "ticks": false, "zindex": 0}}, "y": {"datum": -25, "type": "quantitative", "axis": {"domain": false, "ticks": false, "zindex": 0, "labelPadding": 5, "labelOverlap": false, "title": ["Difference in mean arterial pressure", "(mmHg)"], "values": [-20, -10, 0, 10, 20], "titleX": -40, "titleY": 58, "titleAngle": -90, "titleAlign": "center", "titleBaseline": "middle", "titleLineHeight": 16}}, "y2": {"datum": 20}}}
   ]}
 ], "spacing": 99, "bounds": "flush",
 "resolve": {"scale": {"x": "independent", "y": "independent", "xOffset": "independent", "shape": "independent"}, "legend": {"shape": "independent"}, "axis": {"x": "independent", "y": "independent"}}},
 {"hconcat": [
  {"width": 221, "height": 148,
   "title": {"text": "(c)", "dx": -56, "offset": 7},
   "layer": [
    {"data": {"name": "bars"}, "transform": [{"filter": "datum.panel == 'c'"}],
     "mark": {"type": "bar", "fill": "white", "stroke": "black", "strokeWidth": 2},
     "encoding": {
      "x": {"field": "cat", "type": "nominal", "sort": ["Ach 1", "Ach 2", "SNP 1", "SNP 2", "Nac x Ach 1", "Nac x Ach 2"], "scale": {"paddingInner": 0, "paddingOuter": 0.08}, "axis": {"title": null, "labelAngle": -45, "labelPadding": 5, "domain": false, "ticks": false, "zindex": 0}},
      "xOffset": {"field": "grp", "type": "nominal", "sort": ["Before treatment", "After treatment"], "scale": {"paddingInner": 0.46, "paddingOuter": 0.635}},
      "y": {"field": "mean", "type": "quantitative", "scale": {"domain": [-25.8, 10], "nice": false, "zero": false}, "axis": {"domain": false, "ticks": false, "zindex": 0, "labelPadding": 5, "labelOverlap": false, "title": ["Change in mean arterial pressure", "(mmHg)"], "values": [-20, -10, 0, 10], "titleX": -39, "titleY": 64, "titleAngle": -90, "titleAlign": "center", "titleBaseline": "middle", "titleLineHeight": 18}},
      "y2": {"datum": 0}}},
    {"data": {"name": "bars"}, "transform": [{"filter": "datum.panel == 'c'"}],
     "mark": {"type": "rule", "color": "black", "strokeWidth": 1.2},
     "encoding": {
      "x": {"field": "cat", "type": "nominal", "sort": ["Ach 1", "Ach 2", "SNP 1", "SNP 2", "Nac x Ach 1", "Nac x Ach 2"], "axis": {"title": null, "labelAngle": -45, "labelPadding": 5, "domain": false, "ticks": false, "zindex": 0}},
      "xOffset": {"field": "grp", "type": "nominal", "sort": ["Before treatment", "After treatment"]},
      "y": {"field": "lo", "type": "quantitative", "axis": {"domain": false, "ticks": false, "zindex": 0, "labelPadding": 5, "labelOverlap": false, "title": ["Change in mean arterial pressure", "(mmHg)"], "values": [-20, -10, 0, 10], "titleX": -39, "titleY": 64, "titleAngle": -90, "titleAlign": "center", "titleBaseline": "middle", "titleLineHeight": 18}}, "y2": {"field": "hi"}}},
    {"data": {"name": "bars"}, "transform": [{"filter": "datum.panel == 'c'"}],
     "mark": {"type": "tick", "orient": "horizontal", "color": "black", "size": 6, "thickness": 1.5},
     "encoding": {
      "x": {"field": "cat", "type": "nominal", "sort": ["Ach 1", "Ach 2", "SNP 1", "SNP 2", "Nac x Ach 1", "Nac x Ach 2"], "axis": {"title": null, "labelAngle": -45, "labelPadding": 5, "domain": false, "ticks": false, "zindex": 0}},
      "xOffset": {"field": "grp", "type": "nominal", "sort": ["Before treatment", "After treatment"]},
      "y": {"field": "hi", "type": "quantitative", "axis": {"domain": false, "ticks": false, "zindex": 0, "labelPadding": 5, "labelOverlap": false, "title": ["Change in mean arterial pressure", "(mmHg)"], "values": [-20, -10, 0, 10], "titleX": -39, "titleY": 64, "titleAngle": -90, "titleAlign": "center", "titleBaseline": "middle", "titleLineHeight": 18}}}},
    {"data": {"name": "bars"}, "transform": [{"filter": "datum.panel == 'c'"}],
     "mark": {"type": "tick", "orient": "horizontal", "color": "black", "size": 6, "thickness": 1.5},
     "encoding": {
      "x": {"field": "cat", "type": "nominal", "sort": ["Ach 1", "Ach 2", "SNP 1", "SNP 2", "Nac x Ach 1", "Nac x Ach 2"], "axis": {"title": null, "labelAngle": -45, "labelPadding": 5, "domain": false, "ticks": false, "zindex": 0}},
      "xOffset": {"field": "grp", "type": "nominal", "sort": ["Before treatment", "After treatment"]},
      "y": {"field": "lo", "type": "quantitative", "axis": {"domain": false, "ticks": false, "zindex": 0, "labelPadding": 5, "labelOverlap": false, "title": ["Change in mean arterial pressure", "(mmHg)"], "values": [-20, -10, 0, 10], "titleX": -39, "titleY": 64, "titleAngle": -90, "titleAlign": "center", "titleBaseline": "middle", "titleLineHeight": 18}}}},
    {"data": {"name": "pts"}, "transform": [{"filter": "datum.panel == 'c'"}],
     "mark": {"type": "point", "shape": "circle", "stroke": "black", "strokeWidth": 1, "size": 11, "opacity": 1},
     "encoding": {
      "x": {"field": "cat", "type": "nominal", "sort": ["Ach 1", "Ach 2", "SNP 1", "SNP 2", "Nac x Ach 1", "Nac x Ach 2"], "axis": {"title": null, "labelAngle": -45, "labelPadding": 5, "domain": false, "ticks": false, "zindex": 0}},
      "xOffset": {"field": "grp", "type": "nominal", "sort": ["Before treatment", "After treatment"]},
      "y": {"field": "v", "type": "quantitative", "axis": {"domain": false, "ticks": false, "zindex": 0, "labelPadding": 5, "labelOverlap": false, "title": ["Change in mean arterial pressure", "(mmHg)"], "values": [-20, -10, 0, 10], "titleX": -39, "titleY": 64, "titleAngle": -90, "titleAlign": "center", "titleBaseline": "middle", "titleLineHeight": 18}},
      "fill": {"field": "grp", "type": "nominal", "scale": {"domain": ["Before treatment", "After treatment"], "range": ["white", "black"]}, "legend": {"legendX": 53, "legendY": -22, "rowPadding": 5, "labelOffset": 14, "symbolSize": 14, "symbolType": "circle", "symbolStrokeWidth": 1}}}},
    {"mark": {"type": "rule", "color": "black", "strokeWidth": 2}, "encoding": {"y": {"datum": 0, "type": "quantitative", "axis": {"domain": false, "ticks": false, "zindex": 0, "labelPadding": 5, "labelOverlap": false, "title": ["Change in mean arterial pressure", "(mmHg)"], "values": [-20, -10, 0, 10], "titleX": -39, "titleY": 64, "titleAngle": -90, "titleAlign": "center", "titleBaseline": "middle", "titleLineHeight": 18}}}},
    {"mark": {"type": "rule", "color": "black", "strokeWidth": 2, "clip": false}, "encoding": {"y": {"datum": -25, "type": "quantitative", "axis": {"domain": false, "ticks": false, "zindex": 0, "labelPadding": 5, "labelOverlap": false, "title": ["Change in mean arterial pressure", "(mmHg)"], "values": [-20, -10, 0, 10], "titleX": -39, "titleY": 64, "titleAngle": -90, "titleAlign": "center", "titleBaseline": "middle", "titleLineHeight": 18}}}},
    {"mark": {"type": "rule", "color": "black", "strokeWidth": 2, "clip": false}, "encoding": {"x": {"datum": "Ach 1", "type": "nominal", "bandPosition": 0, "axis": {"title": null, "labelAngle": -45, "labelPadding": 5, "domain": false, "ticks": false, "zindex": 0}}, "y": {"datum": -25, "type": "quantitative", "axis": {"domain": false, "ticks": false, "zindex": 0, "labelPadding": 5, "labelOverlap": false, "title": ["Change in mean arterial pressure", "(mmHg)"], "values": [-20, -10, 0, 10], "titleX": -39, "titleY": 64, "titleAngle": -90, "titleAlign": "center", "titleBaseline": "middle", "titleLineHeight": 18}}, "y2": {"datum": 10}}}
   ]},
  {"width": 227, "height": 148,
   "title": {"text": "(b)", "dx": -71, "offset": -6},
   "layer": [
    {"data": {"name": "bars"}, "transform": [{"filter": "datum.panel == 'd'"}],
     "mark": {"type": "bar", "fill": "white", "stroke": "black", "strokeWidth": 2},
     "encoding": {
      "x": {"field": "cat", "type": "nominal", "sort": ["Ach 1", "Ach 2", "SNP 1", "SNP 2", "Nac x Ach 1", "Nac x Ach 2"], "scale": {"paddingInner": 0, "paddingOuter": 0.08}, "axis": {"title": null, "labelAngle": -45, "labelPadding": 5, "domain": false, "ticks": false, "zindex": 0}},
      "xOffset": {"field": "grp", "type": "nominal", "sort": ["Before treatment", "After treatment"], "scale": {"paddingInner": 0.46, "paddingOuter": 0.56}},
      "y": {"field": "mean", "type": "quantitative", "scale": {"domain": [-25.8, 10], "nice": false, "zero": false}, "axis": {"domain": false, "ticks": false, "zindex": 0, "labelPadding": 5, "labelOverlap": false, "title": ["Change in mean arterial pressure", "(mmHg)"], "values": [-20, -10, 0, 10], "titleX": -40, "titleY": 60, "titleAngle": -90, "titleAlign": "center", "titleBaseline": "middle", "titleLineHeight": 16}},
      "y2": {"datum": 0}}},
    {"data": {"name": "bars"}, "transform": [{"filter": "datum.panel == 'd'"}],
     "mark": {"type": "rule", "color": "black", "strokeWidth": 1.2},
     "encoding": {
      "x": {"field": "cat", "type": "nominal", "sort": ["Ach 1", "Ach 2", "SNP 1", "SNP 2", "Nac x Ach 1", "Nac x Ach 2"], "axis": {"title": null, "labelAngle": -45, "labelPadding": 5, "domain": false, "ticks": false, "zindex": 0}},
      "xOffset": {"field": "grp", "type": "nominal", "sort": ["Before treatment", "After treatment"]},
      "y": {"field": "lo", "type": "quantitative", "axis": {"domain": false, "ticks": false, "zindex": 0, "labelPadding": 5, "labelOverlap": false, "title": ["Change in mean arterial pressure", "(mmHg)"], "values": [-20, -10, 0, 10], "titleX": -40, "titleY": 60, "titleAngle": -90, "titleAlign": "center", "titleBaseline": "middle", "titleLineHeight": 16}}, "y2": {"field": "hi"}}},
    {"data": {"name": "bars"}, "transform": [{"filter": "datum.panel == 'd'"}],
     "mark": {"type": "tick", "orient": "horizontal", "color": "black", "size": 6, "thickness": 1.5},
     "encoding": {
      "x": {"field": "cat", "type": "nominal", "sort": ["Ach 1", "Ach 2", "SNP 1", "SNP 2", "Nac x Ach 1", "Nac x Ach 2"], "axis": {"title": null, "labelAngle": -45, "labelPadding": 5, "domain": false, "ticks": false, "zindex": 0}},
      "xOffset": {"field": "grp", "type": "nominal", "sort": ["Before treatment", "After treatment"]},
      "y": {"field": "hi", "type": "quantitative", "axis": {"domain": false, "ticks": false, "zindex": 0, "labelPadding": 5, "labelOverlap": false, "title": ["Change in mean arterial pressure", "(mmHg)"], "values": [-20, -10, 0, 10], "titleX": -40, "titleY": 60, "titleAngle": -90, "titleAlign": "center", "titleBaseline": "middle", "titleLineHeight": 16}}}},
    {"data": {"name": "bars"}, "transform": [{"filter": "datum.panel == 'd'"}],
     "mark": {"type": "tick", "orient": "horizontal", "color": "black", "size": 6, "thickness": 1.5},
     "encoding": {
      "x": {"field": "cat", "type": "nominal", "sort": ["Ach 1", "Ach 2", "SNP 1", "SNP 2", "Nac x Ach 1", "Nac x Ach 2"], "axis": {"title": null, "labelAngle": -45, "labelPadding": 5, "domain": false, "ticks": false, "zindex": 0}},
      "xOffset": {"field": "grp", "type": "nominal", "sort": ["Before treatment", "After treatment"]},
      "y": {"field": "lo", "type": "quantitative", "axis": {"domain": false, "ticks": false, "zindex": 0, "labelPadding": 5, "labelOverlap": false, "title": ["Change in mean arterial pressure", "(mmHg)"], "values": [-20, -10, 0, 10], "titleX": -40, "titleY": 60, "titleAngle": -90, "titleAlign": "center", "titleBaseline": "middle", "titleLineHeight": 16}}}},
    {"data": {"name": "pts"}, "transform": [{"filter": "datum.panel == 'd'"}],
     "mark": {"type": "point", "shape": "circle", "stroke": "black", "strokeWidth": 1, "size": 11, "opacity": 1},
     "encoding": {
      "x": {"field": "cat", "type": "nominal", "sort": ["Ach 1", "Ach 2", "SNP 1", "SNP 2", "Nac x Ach 1", "Nac x Ach 2"], "axis": {"title": null, "labelAngle": -45, "labelPadding": 5, "domain": false, "ticks": false, "zindex": 0}},
      "xOffset": {"field": "grp", "type": "nominal", "sort": ["Before treatment", "After treatment"]},
      "y": {"field": "v", "type": "quantitative", "axis": {"domain": false, "ticks": false, "zindex": 0, "labelPadding": 5, "labelOverlap": false, "title": ["Change in mean arterial pressure", "(mmHg)"], "values": [-20, -10, 0, 10], "titleX": -40, "titleY": 60, "titleAngle": -90, "titleAlign": "center", "titleBaseline": "middle", "titleLineHeight": 16}},
      "fill": {"field": "grp", "type": "nominal", "scale": {"domain": ["Before treatment", "After treatment"], "range": ["white", "black"]}, "legend": {"legendX": 91, "legendY": -24, "rowPadding": 1, "labelOffset": 13, "symbolSize": 14, "symbolType": "circle", "symbolStrokeWidth": 1}}}},
    {"mark": {"type": "rule", "color": "black", "strokeWidth": 2}, "encoding": {"y": {"datum": 0, "type": "quantitative", "axis": {"domain": false, "ticks": false, "zindex": 0, "labelPadding": 5, "labelOverlap": false, "title": ["Change in mean arterial pressure", "(mmHg)"], "values": [-20, -10, 0, 10], "titleX": -40, "titleY": 60, "titleAngle": -90, "titleAlign": "center", "titleBaseline": "middle", "titleLineHeight": 16}}}},
    {"mark": {"type": "rule", "color": "black", "strokeWidth": 2, "clip": false}, "encoding": {"y": {"datum": -25, "type": "quantitative", "axis": {"domain": false, "ticks": false, "zindex": 0, "labelPadding": 5, "labelOverlap": false, "title": ["Change in mean arterial pressure", "(mmHg)"], "values": [-20, -10, 0, 10], "titleX": -40, "titleY": 60, "titleAngle": -90, "titleAlign": "center", "titleBaseline": "middle", "titleLineHeight": 16}}}},
    {"mark": {"type": "rule", "color": "black", "strokeWidth": 2, "clip": false}, "encoding": {"x": {"datum": "Ach 1", "type": "nominal", "bandPosition": 0, "axis": {"title": null, "labelAngle": -45, "labelPadding": 5, "domain": false, "ticks": false, "zindex": 0}}, "y": {"datum": -25, "type": "quantitative", "axis": {"domain": false, "ticks": false, "zindex": 0, "labelPadding": 5, "labelOverlap": false, "title": ["Change in mean arterial pressure", "(mmHg)"], "values": [-20, -10, 0, 10], "titleX": -40, "titleY": 60, "titleAngle": -90, "titleAlign": "center", "titleBaseline": "middle", "titleLineHeight": 16}}, "y2": {"datum": 10}}}
   ]}
 ], "spacing": 99, "bounds": "flush",
 "resolve": {"scale": {"x": "independent", "y": "independent", "xOffset": "independent", "fill": "independent"}, "legend": {"fill": "independent"}, "axis": {"x": "independent", "y": "independent"}}}
]
}
